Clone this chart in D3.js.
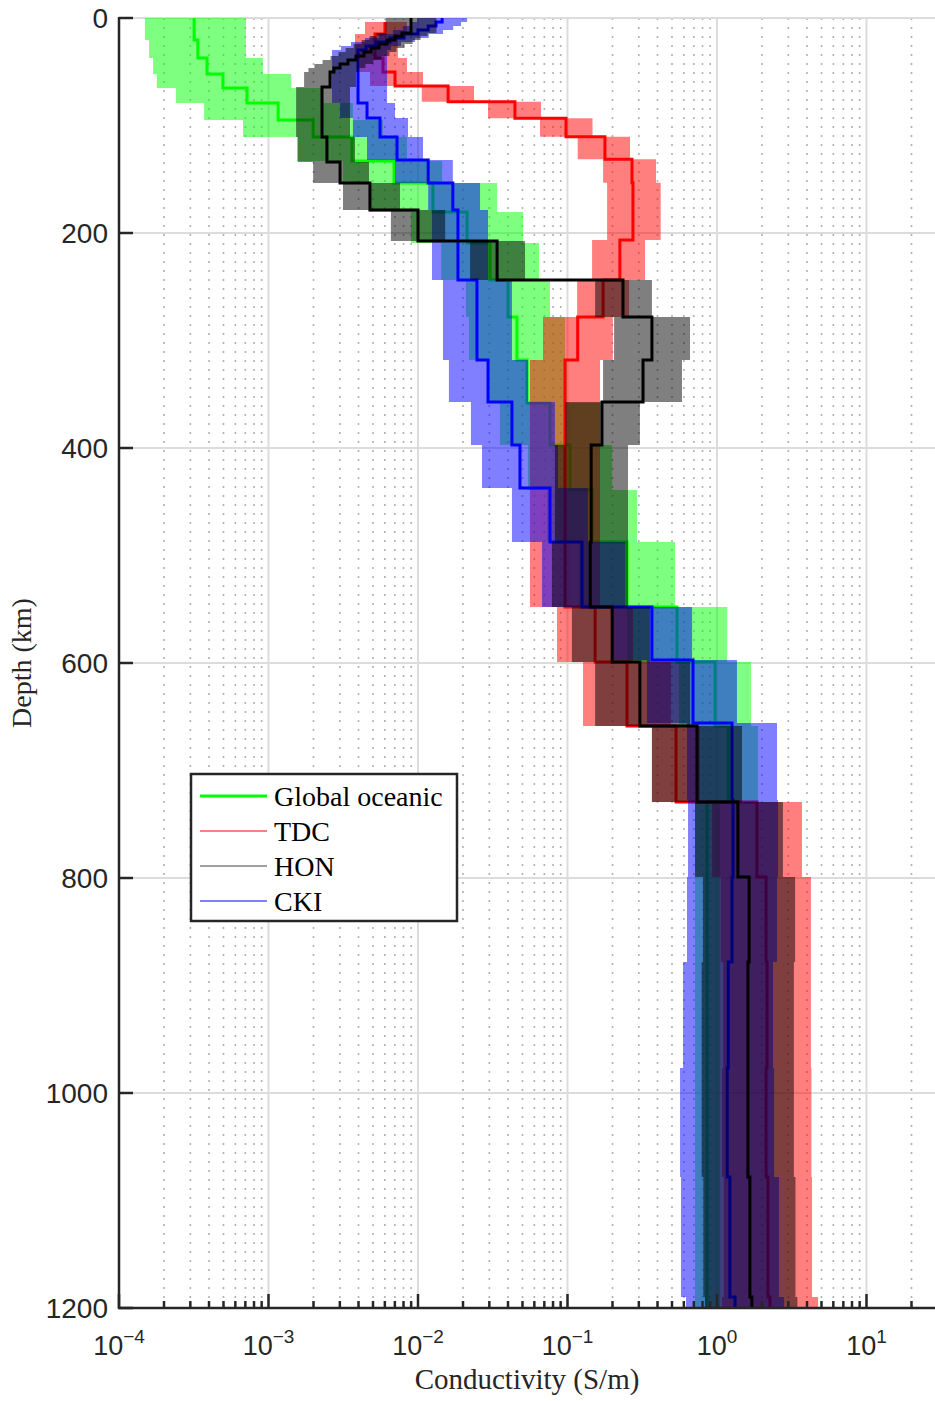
<!DOCTYPE html>
<html>
<head>
<meta charset="utf-8">
<script src="https://cdn.jsdelivr.net/npm/d3@7"></script>
<style>
  body { margin: 0; background: #ffffff; }
  svg { display: block; }
</style>
</head>
<body>
<svg id="chart" width="935" height="1401"></svg>
<script>
// Layered 1-D conductivity profiles: layer edges (km), median and spread bounds (S/m)

// Global oceanic
const globalEdges = [0, 20.5, 37.2, 52.1, 65.1, 79.1, 94.9, 110.7, 133.0, 153.5, 180.5, 209.3, 243.7, 278.1, 318.1, 358.1, 397.2, 439.1, 487.4, 547.9, 599.1, 658.6, 729.3, 1200];
const globalMedian = [3.18e-4, 3.37e-4, 3.88e-4, 4.96e-4, 7.18e-4, 1.16e-3, 1.99e-3, 3.62e-3, 6.91e-3, 1.26e-2, 2.13e-2, 3.03e-2, 4.00e-2, 4.59e-2, 5.36e-2, 7.64e-2, 0.104, 0.146, 0.250, 0.540, 0.97, 1.19, 0.857];
const globalLower = [1.49e-4, 1.59e-4, 1.69e-4, 1.79e-4, 2.40e-4, 3.71e-4, 6.75e-4, 1.55e-3, 3.15e-3, 4.70e-3, 8.98e-3, 1.43e-2, 2.09e-2, 2.19e-2, 2.90e-2, 3.53e-2, 5.44e-2, 7.29e-2, 0.119, 0.250, 0.557, 0.746, 0.713];
const globalUpper = [7.07e-4, 7.07e-4, 9.18e-4, 1.42e-3, 2.25e-3, 3.67e-3, 5.83e-3, 8.44e-3, 1.45e-2, 3.38e-2, 5.04e-2, 6.45e-2, 7.64e-2, 9.62e-2, 9.93e-2, 0.165, 0.199, 0.292, 0.524, 1.17, 1.69, 1.88, 1.05];

// TDC
const tdcEdges = [3.7, 14.9, 37.2, 50.2, 63.3, 77.9, 93.3, 110.4, 131.4, 153.2, 206.5, 243.7, 278.1, 318.1, 547.9, 599.1, 658.6, 729.3, 799.1, 878.1, 976.7, 1078.1, 1189.8, 1200];
const tdcMedian = [6.01e-3, 5.16e-3, 5.83e-3, 7.02e-3, 1.59e-2, 4.45e-2, 9.77e-2, 0.178, 0.270, 0.274, 0.224, 0.173, 0.117, 9.62e-2, 0.153, 0.250, 0.532, 1.85, 2.13, 2.16, 2.13, 2.19, 2.26];
const tdcLower = [4.42e-3, 3.79e-3, 4.09e-3, 4.77e-3, 1.06e-2, 2.94e-2, 6.55e-2, 0.117, 0.173, 0.184, 0.146, 0.116, 6.86e-2, 5.61e-2, 8.51e-2, 0.127, 0.367, 0.926, 1.06, 1.10, 1.08, 1.11, 1.08];
const tdcUpper = [8.44e-3, 7.34e-3, 8.44e-3, 1.08e-2, 2.37e-2, 6.65e-2, 0.147, 0.262, 0.391, 0.420, 0.330, 0.258, 0.201, 0.165, 0.274, 0.492, 0.769, 3.70, 4.25, 4.25, 4.28, 4.32, 4.74];

// HON
const honEdges = [0, 14.0, 16.7, 20.5, 24.2, 27.9, 31.6, 35.3, 39.1, 42.8, 46.5, 50.2, 64.2, 110.7, 133.9, 153.5, 178.6, 207.4, 243.7, 278.1, 318.1, 357.2, 397.2, 487.4, 547.9, 599.1, 658.6, 729.3, 799.1, 878.1, 976.7, 1078.1, 1189.8, 1200];
const honMedian = [8.98e-3, 7.82e-3, 7.02e-3, 6.21e-3, 5.49e-3, 4.85e-3, 4.35e-3, 3.85e-3, 3.40e-3, 3.01e-3, 2.74e-3, 2.58e-3, 2.28e-3, 2.46e-3, 3.01e-3, 4.77e-3, 1.00e-2, 3.38e-2, 0.235, 0.367, 0.320, 0.170, 0.144, 0.142, 0.199, 0.305, 0.735, 1.38, 1.64, 1.61, 1.61, 1.66, 1.71];
const honLower = [6.07e-3, 5.28e-3, 4.74e-3, 4.20e-3, 3.71e-3, 3.28e-3, 2.94e-3, 2.60e-3, 2.30e-3, 2.03e-3, 1.85e-3, 1.73e-3, 1.53e-3, 1.57e-3, 1.99e-3, 3.15e-3, 6.59e-3, 2.23e-2, 0.153, 0.205, 0.173, 0.0962, 0.0824, 0.0787, 0.107, 0.153, 0.367, 0.713, 0.806, 0.79, 0.79, 0.81, 0.83];
const honUpper = [1.33e-2, 1.16e-2, 1.04e-2, 9.19e-3, 8.13e-3, 7.18e-3, 6.44e-3, 5.70e-3, 5.03e-3, 4.45e-3, 4.06e-3, 3.85e-3, 3.51e-3, 3.79e-3, 4.70e-3, 7.58e-3, 1.52e-2, 5.20e-2, 0.367, 0.660, 0.583, 0.305, 0.254, 0.254, 0.356, 0.660, 1.47, 2.76, 3.33, 3.27, 3.27, 3.35, 3.45];

// CKI
const ckiEdges = [0, 3.7, 7.4, 11.2, 14.9, 18.6, 22.3, 26.0, 29.8, 79.1, 93.0, 110.7, 132.1, 153.5, 178.6, 243.7, 318.1, 357.2, 397.2, 437.2, 487.4, 547.9, 597.2, 655.8, 727.4, 799.1, 878.1, 976.7, 1078.1, 1189.8, 1200];
const ckiMedian = [1.45e-2, 1.32e-2, 1.17e-2, 1.00e-2, 8.06e-3, 6.50e-3, 5.24e-3, 4.49e-3, 3.97e-3, 4.56e-3, 5.57e-3, 7.24e-3, 1.17e-2, 1.71e-2, 1.85e-2, 2.48e-2, 2.94e-2, 4.25e-2, 4.81e-2, 7.64e-2, 0.125, 0.367, 0.691, 1.26, 1.28, 1.26, 1.19, 1.17, 1.22, 1.32];
const ckiLower = [9.86e-3, 8.98e-3, 7.96e-3, 6.80e-3, 5.48e-3, 4.42e-3, 3.56e-3, 3.05e-3, 2.66e-3, 3.01e-3, 3.67e-3, 4.56e-3, 7.02e-3, 1.17e-2, 1.24e-2, 1.47e-2, 1.61e-2, 2.26e-2, 2.68e-2, 4.25e-2, 6.75e-2, 0.201, 0.340, 0.630, 0.640, 0.630, 0.593, 0.566, 0.574, 0.621];
const ckiUpper = [2.13e-2, 1.94e-2, 1.72e-2, 1.47e-2, 1.18e-2, 9.56e-3, 7.70e-3, 6.60e-3, 6.21e-3, 7.02e-3, 8.57e-3, 1.08e-2, 1.71e-2, 2.60e-2, 2.94e-2, 4.25e-2, 5.44e-2, 8.24e-2, 8.64e-2, 0.137, 0.243, 0.681, 1.36, 2.52, 2.56, 2.52, 2.37, 2.41, 2.60, 2.81];

// Axis ticks and labels
const depthTicks = [0, 200, 400, 600, 800, 1000, 1200];
const decadeTicks = [1e-4, 1e-3, 1e-2, 1e-1, 1e0, 1e1];
const decadeExponents = ["\u22124", "\u22123", "\u22122", "\u22121", "0", "1"];
const legendNames = ["Global oceanic", "TDC", "HON", "CKI"];

(function () {
  // Drawing order: green, red, blue, black (each band then its line)
  const models = [
    { edges: globalEdges, median: globalMedian, lower: globalLower, upper: globalUpper, color: "#00ff00" },
    { edges: tdcEdges, median: tdcMedian, lower: tdcLower, upper: tdcUpper, color: "#ff0000" },
    { edges: ckiEdges, median: ckiMedian, lower: ckiLower, upper: ckiUpper, color: "#0000ff" },
    { edges: honEdges, median: honMedian, lower: honLower, upper: honUpper, color: "#000000" }
  ];

  const legendStyles = [
    { color: "#00ff00", width: 3 },
    { color: "#ff0000", width: 1.2 },
    { color: "#444444", width: 1.2 },
    { color: "#0000ff", width: 1.2 }
  ];

  const plotLeft = 119, plotTop = 18, plotBottom = 1308;
  const perDecade = 149.5;
  const xMin = 1e-4, xMax = 30;

  const x = d3.scaleLog().domain([xMin, xMax]).range([plotLeft, plotLeft + Math.log10(xMax / xMin) * perDecade]);
  const y = d3.scaleLinear().domain([0, 1200]).range([plotTop, plotBottom]);
  const plotRight = x(xMax);

  const svg = d3.select("#chart");
  const axisColor = "#262626";

  svg.append("defs").append("clipPath").attr("id", "plotClip")
    .append("rect").attr("x", plotLeft).attr("y", plotTop)
    .attr("width", plotRight - plotLeft).attr("height", plotBottom - plotTop);

  // Grid
  const grid = svg.append("g");
  const minorVals = [];
  decadeTicks.forEach(d => { for (let m = 2; m <= 9; m++) { const v = d * m; if (v < xMax) minorVals.push(v); } });
  grid.selectAll("line.minor").data(minorVals).join("line")
    .attr("x1", d => x(d)).attr("x2", d => x(d)).attr("y1", plotTop).attr("y2", plotBottom)
    .attr("stroke", "#b0b0b0").attr("stroke-width", 1.6).attr("stroke-dasharray", "2,7");
  grid.selectAll("line.vmaj").data(decadeTicks).join("line")
    .attr("x1", d => x(d)).attr("x2", d => x(d)).attr("y1", plotTop).attr("y2", plotBottom)
    .attr("stroke", "#dcdcdc").attr("stroke-width", 2);
  grid.selectAll("line.hmaj").data(depthTicks).join("line")
    .attr("x1", plotLeft).attr("x2", plotRight).attr("y1", d => y(d)).attr("y2", d => y(d))
    .attr("stroke", "#dcdcdc").attr("stroke-width", 2);

  // Profiles
  function stepPoints(m) {
    const pts = [];
    m.median.forEach((v, i) => {
      pts.push({ d: m.edges[i], v: v, lo: m.lower[i], hi: m.upper[i] });
      pts.push({ d: m.edges[i + 1], v: v, lo: m.lower[i], hi: m.upper[i] });
    });
    return pts;
  }
  const band = d3.area().y(p => y(p.d)).x0(p => x(p.lo)).x1(p => x(p.hi));
  const profile = d3.line().x(p => x(p.v)).y(p => y(p.d));

  const plot = svg.append("g").attr("clip-path", "url(#plotClip)");
  models.forEach(m => {
    const pts = stepPoints(m);
    plot.append("path").attr("d", band(pts))
      .attr("fill", m.color).attr("fill-opacity", 0.5).attr("stroke", "none");
    plot.append("path").attr("d", profile(pts))
      .attr("fill", "none").attr("stroke", m.color).attr("stroke-width", 3)
      .attr("stroke-linejoin", "miter").attr("stroke-miterlimit", 10);
  });

  // Axes
  const axes = svg.append("g").attr("stroke", axisColor).attr("stroke-width", 2.5);
  axes.append("line").attr("x1", plotLeft).attr("x2", plotLeft).attr("y1", plotTop - 1).attr("y2", plotBottom + 1);
  axes.append("line").attr("x1", plotLeft - 1).attr("x2", plotRight).attr("y1", plotBottom).attr("y2", plotBottom);
  axes.selectAll("line.ytick").data(depthTicks).join("line")
    .attr("x1", plotLeft).attr("x2", plotLeft + 14).attr("y1", d => y(d)).attr("y2", d => y(d));
  axes.selectAll("line.xtick").data(decadeTicks).join("line")
    .attr("x1", d => x(d)).attr("x2", d => x(d)).attr("y1", plotBottom).attr("y2", plotBottom - 14);
  axes.selectAll("line.xminor").data(minorVals).join("line")
    .attr("x1", d => x(d)).attr("x2", d => x(d)).attr("y1", plotBottom).attr("y2", plotBottom - 7);

  // Tick labels
  svg.append("g").selectAll("text").data(depthTicks).join("text")
    .attr("x", 108).attr("y", d => y(d) + 10)
    .attr("text-anchor", "end")
    .attr("font-family", "'Liberation Sans', Arial, sans-serif").attr("font-size", 28)
    .attr("fill", axisColor)
    .text(d => d);

  const xl = svg.append("g").selectAll("text").data(decadeTicks).join("text")
    .attr("x", d => x(d)).attr("y", 1355)
    .attr("text-anchor", "middle")
    .attr("font-family", "'Liberation Sans', Arial, sans-serif").attr("font-size", 27)
    .attr("fill", axisColor);
  xl.append("tspan").text("10");
  xl.append("tspan").attr("dy", -12).attr("font-size", 19).text((d, i) => decadeExponents[i]);

  // Axis titles
  svg.append("text")
    .attr("x", (plotLeft + 935) / 2).attr("y", 1389)
    .attr("text-anchor", "middle")
    .attr("font-family", "'Liberation Serif', 'Times New Roman', serif").attr("font-size", 29)
    .attr("fill", axisColor)
    .text("Conductivity (S/m)");
  svg.append("text")
    .attr("transform", `translate(31, ${(plotTop + plotBottom) / 2}) rotate(-90)`)
    .attr("text-anchor", "middle")
    .attr("font-family", "'Liberation Serif', 'Times New Roman', serif").attr("font-size", 28)
    .attr("fill", axisColor)
    .text("Depth (km)");

  // Legend
  const lg = svg.append("g");
  lg.append("rect").attr("x", 191).attr("y", 774).attr("width", 266).attr("height", 147)
    .attr("fill", "#ffffff").attr("stroke", axisColor).attr("stroke-width", 2.5);
  const rowY = [796, 831, 866, 901];
  legendNames.forEach((name, i) => {
    lg.append("line").attr("x1", 200).attr("x2", 267).attr("y1", rowY[i]).attr("y2", rowY[i])
      .attr("stroke", legendStyles[i].color).attr("stroke-width", legendStyles[i].width);
    lg.append("text").attr("x", 274).attr("y", rowY[i] + 9.7)
      .attr("font-family", "'Liberation Serif', 'Times New Roman', serif").attr("font-size", 28)
      .attr("fill", "#000000")
      .text(name);
  });
})();
</script>
</body>
</html>
